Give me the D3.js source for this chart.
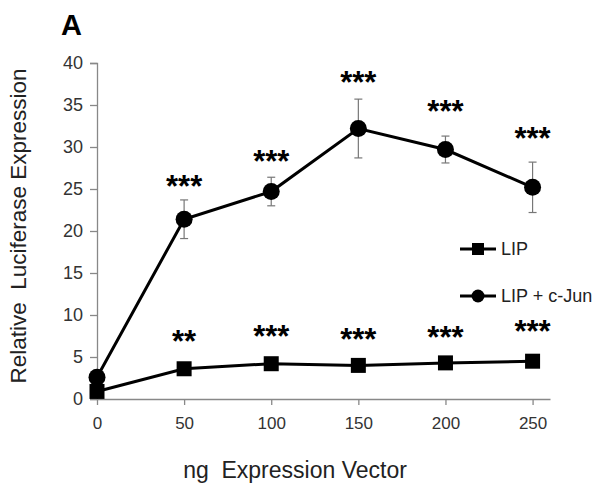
<!DOCTYPE html>
<html>
<head>
<meta charset="utf-8">
<script src="https://cdn.jsdelivr.net/npm/d3@7"></script>
<style>
  body { margin: 0; background: #fff; }
  svg { display: block; }
</style>
</head>
<body>
<div id="chart"></div>
<script>
const width = 600;
const height = 487;

// x categories (ng expression vector)
const doses = [0, 50, 100, 150, 200, 250];

// LIP alone
const lip = [0.9, 3.6, 4.2, 4.0, 4.3, 4.5];
const lipStars = ["", "**", "***", "***", "***", "***"];
const lipStarY = [0, 7.4, 8.0, 7.6, 7.9, 8.6];

// LIP + c-Jun
const jun = [2.6, 21.4, 24.7, 32.2, 29.7, 25.2];
const junErr = [0, 2.3, 1.7, 3.5, 1.6, 3.0];
const junStars = ["", "***", "***", "***", "***", "***"];
const junStarY = [0, 25.8, 28.8, 38.2, 34.8, 31.5];

const yTicks = [0, 5, 10, 15, 20, 25, 30, 35, 40];

const margin = {left: 97, top: 63, right: 50, bottom: 88};

const x = d3.scaleLinear().domain([0, 260]).range([margin.left, width - margin.right]);
const y = d3.scaleLinear().domain([0, 40]).range([height - margin.bottom, margin.top]);

const svg = d3.select("#chart").append("svg")
    .attr("width", width)
    .attr("height", height)
    .attr("font-family", "'Liberation Sans', Arial, sans-serif");

// panel letter
svg.append("text")
    .attr("x", 61).attr("y", 35)
    .attr("font-size", 29).attr("font-weight", "bold")
    .text("A");

// y axis
const yAxis = svg.append("g")
    .attr("transform", `translate(${margin.left},0)`)
    .call(d3.axisLeft(y).tickValues(yTicks).tickSize(7).tickPadding(7));
yAxis.select(".domain").attr("stroke", "#888").attr("stroke-width", 1.3);
yAxis.selectAll(".tick line").attr("stroke", "#888").attr("stroke-width", 1.3);
yAxis.selectAll(".tick text").attr("font-size", 18).attr("fill", "#333");

// x axis
const xAxis = svg.append("g")
    .attr("transform", `translate(0,${y(0)})`)
    .call(d3.axisBottom(x).tickValues(doses).tickSize(6).tickSizeOuter(0).tickPadding(12));
xAxis.select(".domain").attr("stroke", "#888").attr("stroke-width", 1.3);
xAxis.selectAll(".tick line").attr("stroke", "#888").attr("stroke-width", 1.3);
xAxis.selectAll(".tick text").attr("font-size", 17).attr("fill", "#333");

// axis titles
svg.append("text")
    .attr("transform", `translate(26,226) rotate(-90)`)
    .attr("text-anchor", "middle")
    .attr("font-size", 22.5).attr("fill", "#222")
    .attr("xml:space", "preserve")
    .text("Relative  Luciferase Expression");

svg.append("text")
    .attr("x", 295).attr("y", 478)
    .attr("text-anchor", "middle")
    .attr("font-size", 23).attr("fill", "#222")
    .attr("xml:space", "preserve")
    .text("ng  Expression Vector");

const line = d3.line().x((d, i) => x(doses[i])).y(d => y(d));

// error bars for c-Jun
const eb = svg.append("g").attr("stroke", "#777").attr("stroke-width", 1.2);
jun.forEach((v, i) => {
  if (!junErr[i]) return;
  const cx = x(doses[i]);
  eb.append("line").attr("x1", cx).attr("x2", cx).attr("y1", y(v - junErr[i])).attr("y2", y(v + junErr[i]));
  eb.append("line").attr("x1", cx - 4).attr("x2", cx + 4).attr("y1", y(v - junErr[i])).attr("y2", y(v - junErr[i]));
  eb.append("line").attr("x1", cx - 4).attr("x2", cx + 4).attr("y1", y(v + junErr[i])).attr("y2", y(v + junErr[i]));
});

// lines
svg.append("path").datum(jun).attr("d", line)
    .attr("fill", "none").attr("stroke", "#000").attr("stroke-width", 3);
svg.append("path").datum(lip).attr("d", line)
    .attr("fill", "none").attr("stroke", "#000").attr("stroke-width", 3);

// markers
svg.append("g").selectAll("circle").data(jun).join("circle")
    .attr("cx", (d, i) => x(doses[i])).attr("cy", d => y(d)).attr("r", 8.5).attr("fill", "#000");
svg.append("g").selectAll("rect").data(lip).join("rect")
    .attr("x", (d, i) => x(doses[i]) - 7.5).attr("y", d => y(d) - 7.5)
    .attr("width", 15).attr("height", 15).attr("fill", "#000");

// significance stars
const starText = (labels, ys) => svg.append("g")
    .attr("font-size", 31).attr("font-weight", "bold").attr("text-anchor", "middle")
  .selectAll("text").data(labels).join("text")
    .attr("x", (d, i) => x(doses[i]))
    .attr("y", (d, i) => y(ys[i]) + 15)
    .text(d => d);
starText(junStars, junStarY);
starText(lipStars, lipStarY);

// legend
const legend = [
  {name: "LIP", shape: "square", ly: 249},
  {name: "LIP + c-Jun", shape: "circle", ly: 296}
];
const lg = svg.append("g");
legend.forEach(l => {
  lg.append("line").attr("x1", 460).attr("x2", 496).attr("y1", l.ly).attr("y2", l.ly)
    .attr("stroke", "#000").attr("stroke-width", 3);
  if (l.shape === "square") {
    lg.append("rect").attr("x", 472).attr("y", l.ly - 6).attr("width", 12).attr("height", 12).attr("fill", "#000");
  } else {
    lg.append("circle").attr("cx", 478).attr("cy", l.ly).attr("r", 6.5).attr("fill", "#000");
  }
  lg.append("text").attr("x", 501).attr("y", l.ly + 6)
    .attr("font-size", 18).attr("fill", "#222").text(l.name);
});
</script>
</body>
</html>
